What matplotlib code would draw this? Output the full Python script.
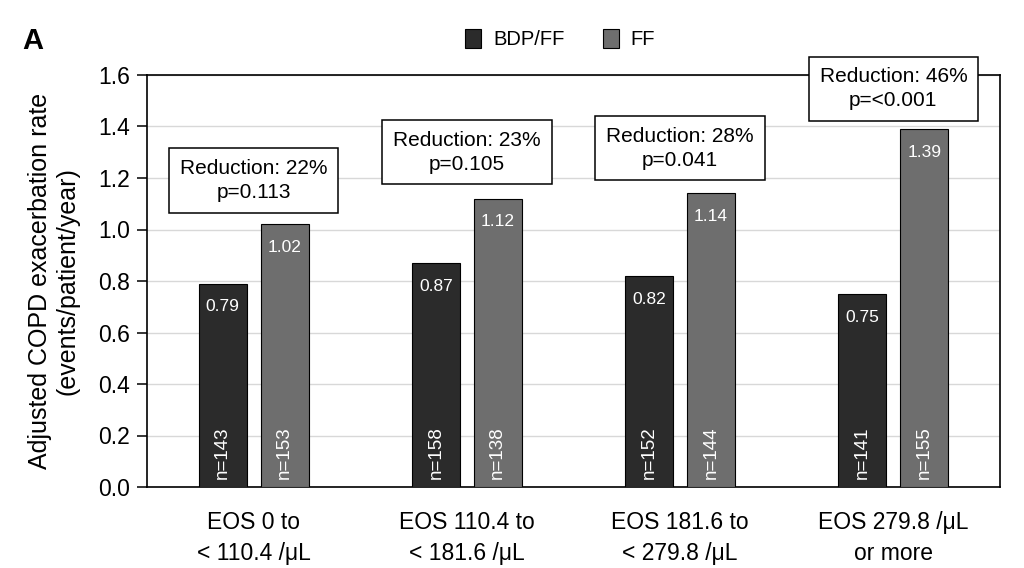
import matplotlib.pyplot as plt
import numpy as np

plt.rcParams['font.family'] = ['Liberation Sans', 'DejaVu Sans']

# Data
groups = ["EOS 0 to\n< 110.4 /\u03bcL", "EOS 110.4 to\n< 181.6 /\u03bcL",
          "EOS 181.6 to\n< 279.8 /\u03bcL", "EOS 279.8 /\u03bcL\nor more"]
bdp_ff = [0.79, 0.87, 0.82, 0.75]
ff = [1.02, 1.12, 1.14, 1.39]
n_bdp_ff = [143, 158, 152, 141]
n_ff = [153, 138, 144, 155]
reductions = ["Reduction: 22%\np=0.113", "Reduction: 23%\np=0.105",
              "Reduction: 28%\np=0.041", "Reduction: 46%\np=<0.001"]
box_y = [1.19, 1.30, 1.315, 1.547]

dark = "#2b2b2b"
grey = "#6e6e6e"

fig = plt.figure(figsize=(10.24, 5.68), dpi=100)
ax = fig.add_axes([147/1024, 1-487/568, 853/1024, 412/568])

x = np.arange(len(groups))
w = 0.225
off = 0.145

b1 = ax.bar(x - off, bdp_ff, w, color=dark, edgecolor="black", linewidth=0.8, label="BDP/FF", zorder=3)
b2 = ax.bar(x + off, ff, w, color=grey, edgecolor="black", linewidth=0.8, label="FF", zorder=3)

for i in range(len(groups)):
    # value labels
    ax.text(x[i] - off, bdp_ff[i] - 0.09, f"{bdp_ff[i]:.2f}", color="white", ha="center", va="center", fontsize=12.5, zorder=4)
    ax.text(x[i] + off, ff[i] - 0.09, f"{ff[i]:.2f}", color="white", ha="center", va="center", fontsize=12.5, zorder=4)
    # n labels
    ax.text(x[i] - off, 0.03, f"n={n_bdp_ff[i]}", color="white", ha="center", va="bottom", rotation=90, fontsize=13.5, zorder=4)
    ax.text(x[i] + off, 0.03, f"n={n_ff[i]}", color="white", ha="center", va="bottom", rotation=90, fontsize=13.5, zorder=4)
    # reduction boxes
    ax.text(x[i], box_y[i], reductions[i], ha="center", va="center", fontsize=15, linespacing=1.3,
            bbox=dict(boxstyle="square,pad=0.52", facecolor="white", edgecolor="black", linewidth=1.1),
            zorder=5, clip_on=False)

ax.set_xlim(-0.5, 3.5)
ax.set_ylim(0, 1.6)
ax.set_yticks(np.arange(0, 1.61, 0.2))
ax.set_yticklabels([f"{v:.1f}" for v in np.arange(0, 1.61, 0.2)], fontsize=16.5)
ax.set_xticks(x)
ax.set_xticklabels(groups, fontsize=16.5, linespacing=1.45)
ax.tick_params(axis="x", length=0, pad=17)
ax.tick_params(axis="y", length=7, width=1.1, direction="out", pad=5)
ax.yaxis.grid(True, color="#d8d8d8", linewidth=1.0, zorder=0)
ax.set_axisbelow(True)
for s in ax.spines.values():
    s.set_linewidth(1.2)

ax.set_ylabel("Adjusted COPD exacerbation rate\n(events/patient/year)", fontsize=18, labelpad=14, linespacing=1.15)

fig.legend(handles=[b1, b2], loc="center", bbox_to_anchor=(560/1024, 1-39/568), ncol=2,
           frameon=False, fontsize=14.5, handlelength=0.8, handleheight=1.1, columnspacing=1.9, handletextpad=0.6)

fig.text(22/1024, 1-41/568, "A", fontsize=21, fontweight="bold", va="center", ha="left")

fig.savefig("out.png", dpi=100)
